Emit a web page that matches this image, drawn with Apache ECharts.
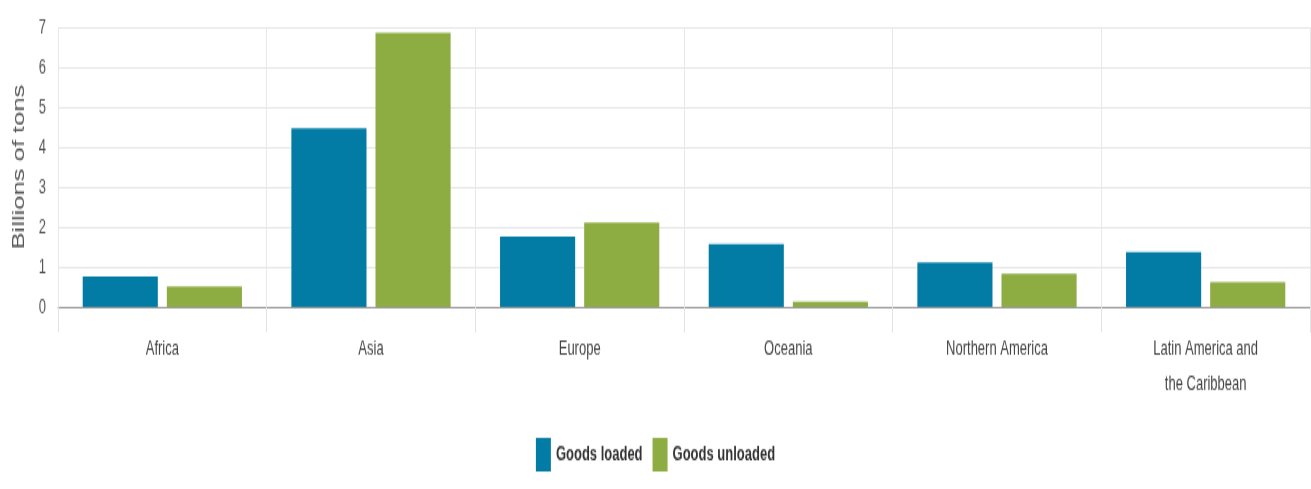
<!DOCTYPE html>
<html>
<head>
<meta charset="utf-8">
<script src="https://cdn.jsdelivr.net/npm/echarts@6/dist/echarts.min.js"></script>
<style>
html,body{margin:0;padding:0;background:#fff;overflow:hidden;}
#wrap{width:1311px;height:489px;overflow:hidden;}
#chart{width:1311px;height:306px;transform:scaleY(1.598);transform-origin:0 0;}
</style>
</head>
<body>
<div id="wrap"><div id="chart"></div></div>
<script>
const categories = ['Africa', 'Asia', 'Europe', 'Oceania', 'Northern America', 'Latin America and\nthe Caribbean'];
const goodsLoaded = [0.76, 4.47, 1.76, 1.57, 1.11, 1.37];
const goodsUnloaded = [0.51, 6.86, 2.11, 0.13, 0.83, 0.62];
const seriesNames = ['Goods loaded', 'Goods unloaded'];
const yTicks = [0, 1, 2, 3, 4, 5, 6, 7];

const chart = echarts.init(document.getElementById('chart'), null, {renderer: 'canvas'});
const font = 'Liberation Sans, Arial, sans-serif';
chart.setOption({
  animation: false,
  textStyle: {fontFamily: font},
  grid: {left: 58, right: 1, top: 17, bottom: 114, containLabel: false},
  legend: {
    data: seriesNames,
    left: 'center',
    top: 269,
    icon: 'rect',
    itemWidth: 15,
    itemHeight: 21,
    itemGap: 10,
    textStyle: {fontFamily: font, fontSize: 13, fontWeight: 'bold', color: '#333'}
  },
  xAxis: {
    type: 'category',
    data: categories,
    axisLine: {lineStyle: {color: '#9a9a9a', width: 1.2}},
    axisTick: {show: true, length: 16, lineStyle: {color: '#e3e3e3'}},
    splitLine: {show: true, lineStyle: {color: '#e8e8e8', width: 1}},
    axisLabel: {fontFamily: font, fontSize: 13, color: '#444', margin: 15, lineHeight: 22, interval: 0}
  },
  yAxis: {
    type: 'value',
    min: yTicks[0],
    max: yTicks[yTicks.length - 1],
    interval: 1,
    name: 'Billions of tons',
    nameLocation: 'middle',
    nameGap: 25,
    nameTextStyle: {fontFamily: font, fontSize: 16, color: '#555'},
    axisLine: {show: false},
    axisTick: {show: false},
    splitLine: {lineStyle: {color: '#e6e6e6', width: 1}},
    axisLabel: {fontFamily: font, fontSize: 13, color: '#555', margin: 12}
  },
  series: [
    {name: seriesNames[0], type: 'bar', data: goodsLoaded, barWidth: '36%', barGap: '12%',
     itemStyle: {color: '#037ca5'}},
    {name: seriesNames[1], type: 'bar', data: goodsUnloaded, barWidth: '36%', barGap: '12%',
     itemStyle: {color: '#8dad42'}}
  ]
});
</script>
</body>
</html>
